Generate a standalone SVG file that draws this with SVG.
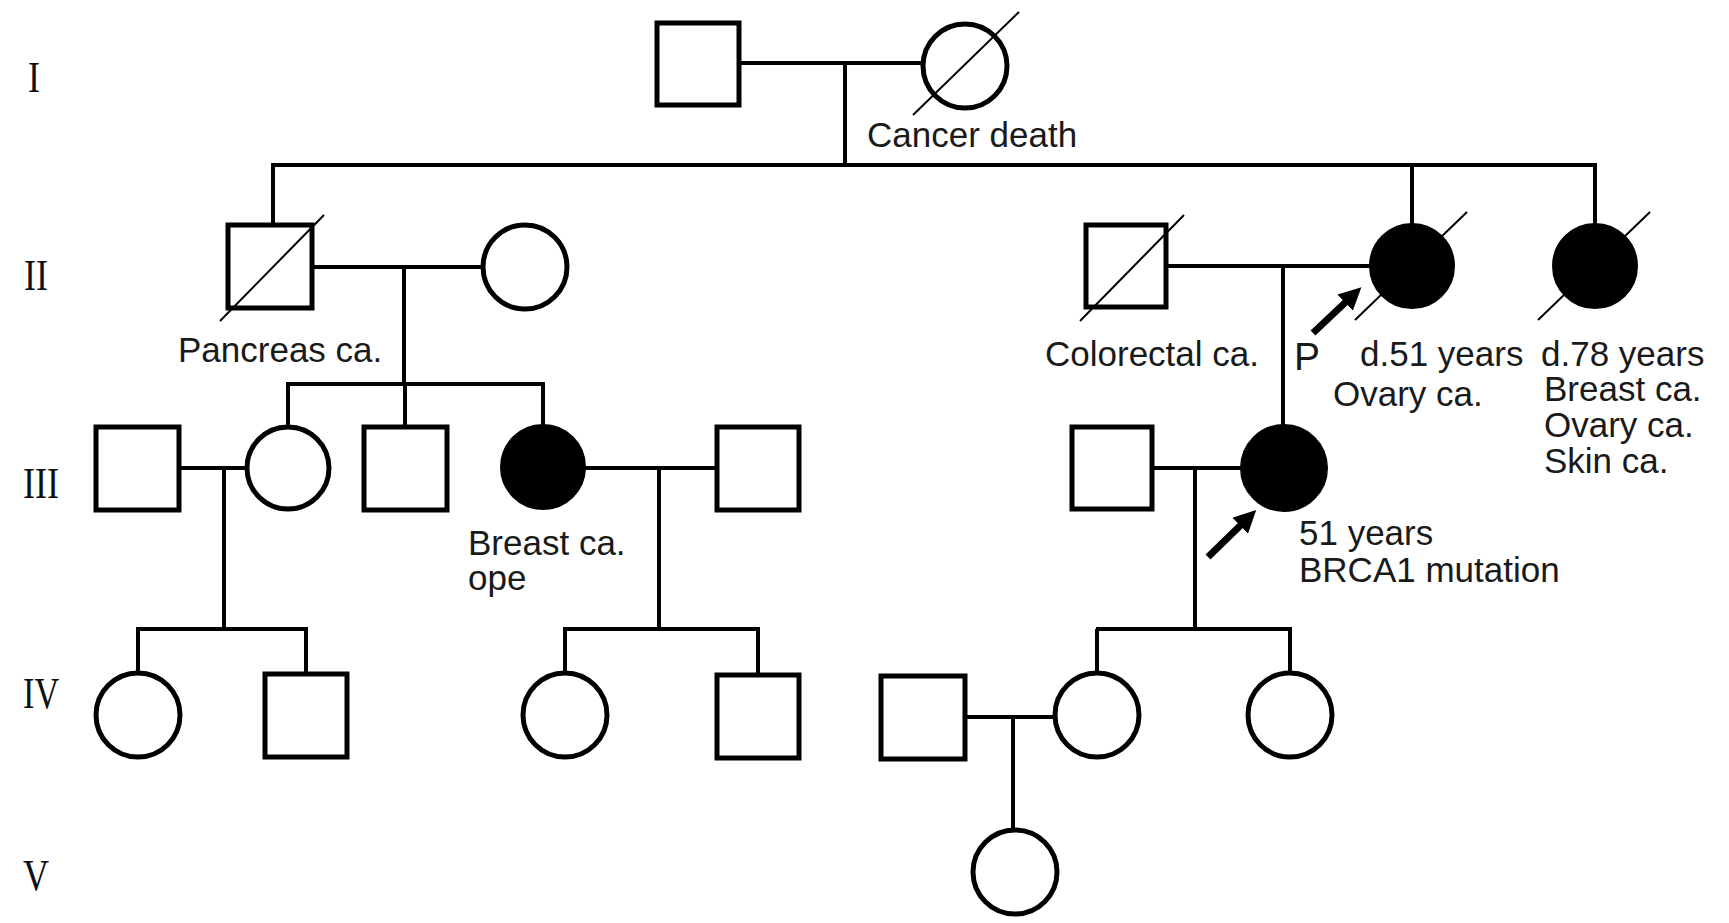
<svg xmlns="http://www.w3.org/2000/svg" width="1729" height="923" viewBox="0 0 1729 923">
<defs>
<style>
.sym{fill:#fff;stroke:#000;stroke-width:5}
.aff{fill:#000;stroke:#000;stroke-width:2}
.ln{stroke:#000;stroke-width:4;fill:none}
.sl{stroke:#000;stroke-width:2;fill:none}
.gen{font-family:"Liberation Serif","Times New Roman",serif;font-size:44px;fill:#111}
.lbl{font-family:"Liberation Sans",Arial,sans-serif;font-size:35px;fill:#1a1a1a}
.arr{stroke:#000;stroke-width:7;fill:none;marker-end:url(#ah)}
</style>
<marker id="ah" viewBox="0 0 10 10" refX="3" refY="5" markerWidth="3.2" markerHeight="3.2" orient="auto" markerUnits="strokeWidth">
<path d="M0,0 L10,5 L0,10 z" fill="#000"/>
</marker>
</defs>
<rect width="1729" height="923" fill="#fff"/>

<g id="generation-labels">
<text class="gen" transform="translate(28,92) scale(0.82,1)">I</text>
<text class="gen" transform="translate(24,290) scale(0.82,1)">II</text>
<text class="gen" transform="translate(23,498) scale(0.82,1)">III</text>
<text class="gen" transform="translate(23,708) scale(0.78,1)">IV</text>
<text class="gen" transform="translate(23,890) scale(0.82,1)">V</text>
</g>

<g id="connectors">
<!-- gen I -->
<line class="ln" x1="739" y1="63" x2="923" y2="63"/>
<line class="ln" x1="845" y1="63" x2="845" y2="165"/>
<line class="ln" x1="271" y1="165" x2="1597" y2="165"/>
<line class="ln" x1="273" y1="165" x2="273" y2="225"/>
<line class="ln" x1="1412" y1="165" x2="1412" y2="224"/>
<line class="ln" x1="1595" y1="165" x2="1595" y2="224"/>
<!-- gen II left -->
<line class="ln" x1="312" y1="267" x2="483" y2="267"/>
<line class="ln" x1="404" y1="267" x2="404" y2="384"/>
<line class="ln" x1="286" y1="384" x2="545" y2="384"/>
<line class="ln" x1="288" y1="384" x2="288" y2="427"/>
<line class="ln" x1="405" y1="384" x2="405" y2="427"/>
<line class="ln" x1="543" y1="384" x2="543" y2="425"/>
<!-- gen II right -->
<line class="ln" x1="1166" y1="266" x2="1370" y2="266"/>
<line class="ln" x1="1283" y1="266" x2="1283" y2="426"/>
<!-- gen III left -->
<line class="ln" x1="179" y1="468" x2="246" y2="468"/>
<line class="ln" x1="224" y1="468" x2="224" y2="629"/>
<line class="ln" x1="136" y1="629" x2="308" y2="629"/>
<line class="ln" x1="138" y1="629" x2="138" y2="673"/>
<line class="ln" x1="306" y1="629" x2="306" y2="674"/>
<line class="ln" x1="585" y1="468" x2="717" y2="468"/>
<line class="ln" x1="659" y1="468" x2="659" y2="629"/>
<line class="ln" x1="563" y1="629" x2="760" y2="629"/>
<line class="ln" x1="565" y1="629" x2="565" y2="673"/>
<line class="ln" x1="758" y1="629" x2="758" y2="675"/>
<!-- gen III right -->
<line class="ln" x1="1152" y1="468" x2="1241" y2="468"/>
<line class="ln" x1="1195" y1="468" x2="1195" y2="629"/>
<line class="ln" x1="1096" y1="629" x2="1292" y2="629"/>
<line class="ln" x1="1097" y1="629" x2="1097" y2="673"/>
<line class="ln" x1="1290" y1="629" x2="1290" y2="673"/>
<!-- gen IV right -->
<line class="ln" x1="965" y1="717" x2="1055" y2="717"/>
<line class="ln" x1="1013" y1="717" x2="1013" y2="830"/>
<!-- proband arrows -->
<line class="arr" x1="1313" y1="333" x2="1350" y2="298"/>
<line class="arr" x1="1208" y1="557" x2="1245" y2="521"/>
</g>

<!-- Generation I -->
<g id="I-1"><rect class="sym" x="657" y="23" width="82" height="82"/></g>
<g id="I-2"><circle class="sym" cx="965" cy="66" r="42"/><line class="sl" x1="913" y1="115" x2="1019" y2="12"/>
<text class="lbl" x="867" y="147">Cancer death</text></g>

<!-- Generation II -->
<g id="II-1"><rect class="sym" x="228" y="225" width="84" height="83"/><line class="sl" x1="220" y1="321" x2="324" y2="215"/>
<text class="lbl" x="178" y="362">Pancreas ca.</text></g>
<g id="II-2"><circle class="sym" cx="525" cy="267" r="42"/></g>
<g id="II-3"><rect class="sym" x="1086" y="225" width="80" height="82"/><line class="sl" x1="1080" y1="321" x2="1184" y2="215"/>
<text class="lbl" x="1045" y="366">Colorectal ca.</text></g>
<g id="II-4"><circle class="aff" cx="1412" cy="266" r="42"/><line class="sl" x1="1355" y1="320" x2="1467" y2="212"/>
<text class="lbl" x="1294" y="370" style="font-size:39px">P</text>
<text class="lbl" x="1360" y="366">d.51 years</text>
<text class="lbl" x="1333" y="406">Ovary ca.</text></g>
<g id="II-5"><circle class="aff" cx="1595" cy="266" r="42"/><line class="sl" x1="1538" y1="320" x2="1650" y2="212"/>
<text class="lbl" x="1541" y="366">d.78 years</text>
<text class="lbl" x="1544" y="401">Breast ca.</text>
<text class="lbl" x="1544" y="437">Ovary ca.</text>
<text class="lbl" x="1544" y="473">Skin ca.</text></g>

<!-- Generation III -->
<g id="III-1"><rect class="sym" x="96" y="427" width="83" height="83"/></g>
<g id="III-2"><circle class="sym" cx="288" cy="468" r="41"/></g>
<g id="III-3"><rect class="sym" x="364" y="427" width="83" height="83"/></g>
<g id="III-4"><circle class="aff" cx="543" cy="467" r="42"/>
<text class="lbl" x="468" y="555">Breast ca.</text>
<text class="lbl" x="468" y="590">ope</text></g>
<g id="III-5"><rect class="sym" x="717" y="427" width="82" height="83"/></g>
<g id="III-6"><rect class="sym" x="1072" y="427" width="80" height="82"/></g>
<g id="III-7"><circle class="aff" cx="1284" cy="468" r="43"/>
<text class="lbl" x="1299" y="545">51 years</text>
<text class="lbl" x="1299" y="582">BRCA1 mutation</text></g>

<!-- Generation IV -->
<g id="IV-1"><circle class="sym" cx="138" cy="715" r="42"/></g>
<g id="IV-2"><rect class="sym" x="265" y="674" width="82" height="83"/></g>
<g id="IV-3"><circle class="sym" cx="565" cy="715" r="42"/></g>
<g id="IV-4"><rect class="sym" x="717" y="675" width="82" height="83"/></g>
<g id="IV-5"><rect class="sym" x="881" y="676" width="84" height="83"/></g>
<g id="IV-6"><circle class="sym" cx="1097" cy="715" r="42"/></g>
<g id="IV-7"><circle class="sym" cx="1290" cy="715" r="42"/></g>

<!-- Generation V -->
<g id="V-1"><circle class="sym" cx="1015" cy="872" r="42"/></g>
</svg>
